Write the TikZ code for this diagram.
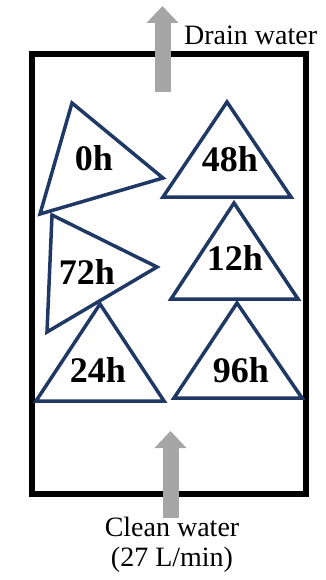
\documentclass[tikz,border=0pt]{standalone}
\usepackage{fontspec}
\setmainfont{Liberation Serif}
\usetikzlibrary{arrows.meta}
\definecolor{navy}{RGB}{31,56,100}
\definecolor{flowgray}{RGB}{166,166,166}

\begin{document}
\begin{tikzpicture}[x=1pt, y=-1pt,
  tank/.style={draw=black, line width=6pt},
  grain/.style={draw=navy, line width=3.5pt, line join=miter},
  hlabel/.style={inner sep=0pt, font=\fontsize{36}{36}\selectfont\bfseries},
  flowlabel/.style={inner sep=0pt, align=center, font=\fontsize{28}{30}\selectfont},
  flow/.style={draw=flowgray, line width=16pt, -{Triangle[width=31pt,length=17pt]}}
]
\useasboundingbox (0,0) rectangle (325,580);
\draw[tank] (32,54.5) rectangle (305.5,493.5);

\draw[grain] (72,103) -- (163,178) -- (40,214) -- cycle;
\draw[grain] (227,102) -- (291,197) -- (163,197) -- cycle;
\draw[grain] (52,215) -- (157,267) -- (47,332) -- cycle;
\draw[grain] (234,203) -- (298,299) -- (171,299) -- cycle;
\draw[grain] (100,304) -- (164,401) -- (36,401) -- cycle;
\draw[grain] (237,303) -- (302,398) -- (174,398) -- cycle;

\node[hlabel] (h0) at (94,158) {0h};
\node[hlabel] (h48) at (230,159) {48h};
\node[hlabel] (h72) at (87,272) {72h};
\node[hlabel] (h12) at (235,258) {12h};
\node[hlabel] (h24) at (98,370) {24h};
\node[hlabel] (h96) at (241,370) {96h};

\coordinate (drainfoot) at (162.5,92);
\coordinate (draintip) at (162.5,6);
\coordinate (cleanfoot) at (170.5,518);
\coordinate (cleantip) at (170.5,431);
\draw[flow] (drainfoot) -- (draintip);
\draw[flow] (cleanfoot) -- (cleantip);

\node[flowlabel, anchor=base west] (drain) at (184,45) {Drain water};
\node[flowlabel, anchor=north] (clean) at (172,517) {Clean water\\(27 L/min)};
\end{tikzpicture}
\end{document}
